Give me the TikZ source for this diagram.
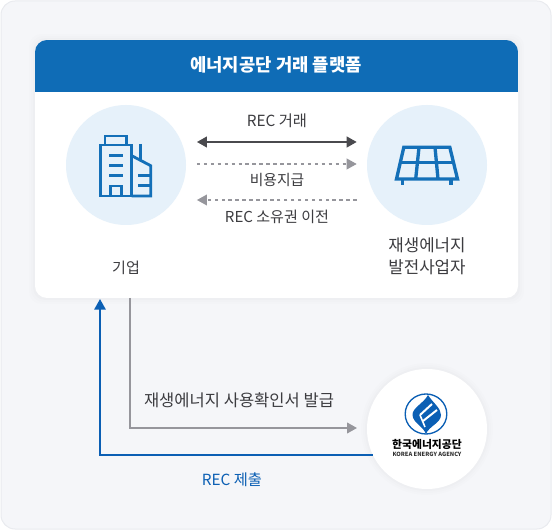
\documentclass[tikz,border=0pt]{standalone}
\usepackage{fontspec}
\setmainfont{Noto Sans CJK KR}
\usetikzlibrary{arrows.meta}
\definecolor{bluehead}{HTML}{0F6CB6}
\definecolor{iconblue}{HTML}{1470B8}
\definecolor{bluearrow}{HTML}{0B5FB4}
\definecolor{circlebg}{HTML}{E6F1FA}
\definecolor{pagebg}{HTML}{F5F6F9}
\definecolor{pageedge}{HTML}{E9EBEF}
\definecolor{greyline}{HTML}{96969C}
\definecolor{darkline}{HTML}{4A4A4E}
\definecolor{txt}{HTML}{3C3C40}
\tikzset{
  lbl/.style={text=txt,font=\fontsize{11.3}{13}\selectfont,inner sep=0pt,align=center},
  disc/.style={circle,fill=circlebg,minimum size=90pt,inner sep=0pt},
  icon/.style={draw=iconblue,line width=2.1pt,line join=miter},
  dashline/.style={draw=greyline,line width=1.1pt,dash pattern=on 2.6pt off 2.6pt,-{Triangle[width=8pt,length=7.5pt,fill=greyline,sep=0pt]}},
}
\begin{document}
\begin{tikzpicture}[x=0.75pt,y=-0.75pt]
\useasboundingbox (0,0) rectangle (553,530);
% page
\draw[fill=pagebg,draw=pageedge,line width=.75pt,rounded corners=10.5pt] (1,1) rectangle (551,529);
% card
\foreach \g/\o in {6/.006,4/.008,2/.01}{
  \fill[black,opacity=\o,rounded corners=9pt] (35-\g,40-\g) rectangle (518+\g,298+\g);}
\fill[white,rounded corners=9pt] (35,40) rectangle (518,298);
\coordinate (cardbase) at (130,298);
\coordinate (cardtip) at (100,299);
\begin{scope}
\clip[rounded corners=9pt] (35,40) rectangle (518,298);
\fill[bluehead] (35,40) rectangle (518,92);
\end{scope}
\node[text=white,font=\fontsize{13.3}{15}\selectfont\bfseries,inner sep=0pt] (title) at (276,65) {에너지공단 거래 플랫폼};
% circles
\node[disc] (ent) at (126,165) {};
\node[disc] (plant) at (427,165) {};
\foreach \g/\o in {6/.006,4/.008,2/.01}{
  \fill[black,opacity=\o] (427,429) circle[radius=45pt+\g*0.75pt];}
\node[disc,fill=white] (kea) at (427,429) {};
% building icon
\draw[icon] (105,145) rectangle (126.7,136);
\draw[icon] (100.7,145) rectangle (131.7,196);
\draw[icon] (109,155.7) -- (123.3,155.7) (109,165.7) -- (123.3,165.7) (109,175.7) -- (123.3,175.7);
\draw[icon] (110.5,196) -- (110.5,186) -- (121.5,186) -- (121.5,196);
\draw[icon] (131.7,155.7) -- (150.7,165.7) -- (150.7,196) -- (131.7,196);
\draw[icon] (140.7,144) -- (140.7,160);
\draw[icon] (138.3,175.7) -- (150.7,175.7) (138.3,185.7) -- (150.7,185.7);
% solar icon
\draw[icon,line width=2.5pt] (403.8,147.3) -- (449.8,147.3) -- (457.5,179) -- (396.5,179) -- cycle;
\draw[icon,line width=2.5pt] (400.5,162.7) -- (453.5,162.7);
\draw[icon,line width=2.5pt] (419,147.3) -- (415.7,179) (435,147.3) -- (438,179);
\draw[icon,line width=2.5pt] (402.7,179) -- (402.7,185.5) (451,179) -- (451,185.5);
% logo
\draw[draw=bluearrow,line width=1pt] (426,414) ellipse[x radius=15.6pt,y radius=15pt];
\fill[bluearrow] (428,395) .. controls (424,403) and (412,408) .. (412.5,415) .. controls (413,423) and (423,426) .. (426,434) .. controls (429,426) and (441,423) .. (441,415) .. controls (441,408) and (433,403) .. (428,395) -- cycle;
\draw[white,line width=1.5pt] (420,415) -- (432,404) (423,421) -- (437,410);
\draw[white,line width=1.2pt] (420,415) -- (425,427);
\node[text=black,font=\fontsize{8.1}{9}\selectfont\bfseries,inner sep=0pt] (logoa) at (427,444) {한국에너지공단};
\node[text=black!80,font=\fontsize{4.3}{5}\selectfont\bfseries,inner sep=0pt] (logob) at (427,454) {KOREA ENERGY AGENCY};
% labels
\node[lbl,font=\fontsize{11.5}{13}\selectfont] (l1) at (277,121) {REC 거래};
\node[lbl,font=\fontsize{11.1}{13}\selectfont] (l2) at (277,180) {비용지급};
\node[lbl] (l3) at (277,217) {REC 소유권 이전};
\node[lbl] (l4) at (126,268) {기업};
\node[lbl,font=\fontsize{12.6}{16.5}\selectfont] (l5) at (427,256) {재생에너지\\발전사업자};
\node[lbl,font=\fontsize{12.4}{14}\selectfont] (l6) at (239,400) {재생에너지 사용확인서 발급};
\node[lbl,text=bluearrow,font=\fontsize{11.5}{13}\selectfont] (l7) at (232,480) {REC 제출};
% arrows
\coordinate (a1) at ([xshift=8pt]ent.east |- 0,142);
\coordinate (b1) at ([xshift=-7.5pt]plant.west |- 0,142);
\coordinate (a2) at ([xshift=8pt]ent.east |- 0,164);
\coordinate (b2) at ([xshift=-7.5pt]plant.west |- 0,164);
\coordinate (a3) at ([xshift=8pt]ent.east |- 0,200);
\coordinate (b3) at ([xshift=-7.5pt]plant.west |- 0,200);
\draw[darkline,line width=1.5pt,{Triangle[width=8pt,length=7.5pt]}-{Triangle[width=8pt,length=7.5pt]}] (a1) -- (b1);
\draw[dashline] (a2) -- (b2);
\draw[dashline] (b3) -- (a3);
\coordinate (c1) at (357,428);
\draw[greyline,line width=1.5pt,-{Triangle[width=8pt,length=7.5pt]}] (cardbase) -- (130,428) -- (c1);
\draw[bluearrow,line width=1.5pt,-{Triangle[width=8.5pt,length=8pt]}] (kea.206.7) -- (kea.206.7 -| cardtip) -- (cardtip);
\end{tikzpicture}
\end{document}
